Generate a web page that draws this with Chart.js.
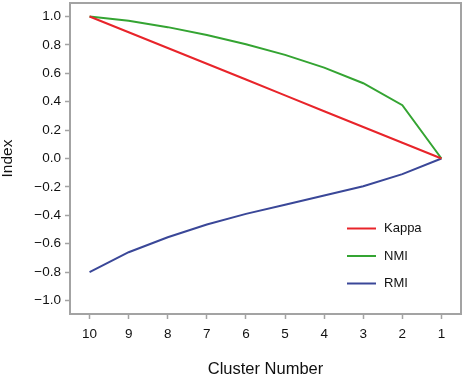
<!DOCTYPE html>
<html>
<head>
<meta charset="utf-8">
<script src="https://cdn.jsdelivr.net/npm/chart.js@4.4.0/dist/chart.umd.min.js"></script>
<style>
  html, body { margin: 0; padding: 0; background: #fff; }
  canvas { display: block; }
</style>
</head>
<body>
<canvas id="chart" width="463" height="382"></canvas>
<script>
// cluster numbers, read left to right
const categories = ["10", "9", "8", "7", "6", "5", "4", "3", "2", "1"];
const kappa = [1.0, 0.889, 0.778, 0.667, 0.556, 0.444, 0.333, 0.222, 0.111, 0.0];
const nmi = [1.0, 0.97, 0.925, 0.87, 0.805, 0.73, 0.64, 0.53, 0.375, 0.0];
const rmi = [-0.80, -0.66, -0.555, -0.465, -0.39, -0.325, -0.26, -0.195, -0.11, 0.0];
const yTickValues = [-1.0, -0.8, -0.6, -0.4, -0.2, 0.0, 0.2, 0.4, 0.6, 0.8, 1.0];

const FONT = '"Liberation Sans", Arial, sans-serif';
const AXIS_GREY = "#a3a3a3";

// full box around the plot + legend inside lower right
const boxAndLegend = {
  id: "boxAndLegend",
  afterDatasetsDraw(chart) {
    const ctx = chart.ctx;
    const a = chart.chartArea;
    ctx.save();
    ctx.strokeStyle = AXIS_GREY;
    ctx.lineWidth = 2;
    ctx.strokeRect(a.left, a.top, a.right - a.left, a.bottom - a.top);

    const x0 = 347, x1 = 376, tx = 384;
    let y = 228.5;
    ctx.font = "13px " + FONT;
    ctx.textBaseline = "middle";
    ctx.textAlign = "left";
    chart.data.datasets.forEach(ds => {
      ctx.strokeStyle = ds.borderColor;
      ctx.lineWidth = 2;
      ctx.beginPath();
      ctx.moveTo(x0, y);
      ctx.lineTo(x1, y);
      ctx.stroke();
      ctx.fillStyle = "#111";
      ctx.fillText(ds.label, tx, y);
      y += 27.5;
    });
    ctx.restore();
  }
};

new Chart(document.getElementById("chart"), {
  type: "line",
  data: {
    labels: categories,
    datasets: [
      { label: "Kappa", data: kappa, borderColor: "#e8242a" },
      { label: "NMI", data: nmi, borderColor: "#34a432" },
      { label: "RMI", data: rmi, borderColor: "#3a4798" }
    ]
  },
  options: {
    responsive: false,
    animation: false,
    devicePixelRatio: 1,
    elements: {
      point: { radius: 0 },
      line: { borderWidth: 2, tension: 0 }
    },
    layout: { padding: { top: 3, right: 2, left: 0, bottom: 0 } },
    plugins: {
      legend: { display: false },
      tooltip: { enabled: false }
    },
    scales: {
      x: {
        offset: true,
        grid: {
          offset: false,
          drawOnChartArea: false,
          drawTicks: true,
          tickLength: 5,
          tickWidth: 1.5,
          tickColor: AXIS_GREY
        },
        border: { display: true, color: AXIS_GREY, width: 2 },
        ticks: {
          color: "#111",
          padding: 7,
          maxRotation: 0,
          autoSkip: false,
          font: { family: FONT, size: 13.5 }
        },
        title: {
          display: true,
          text: "Cluster Number",
          color: "#111",
          font: { family: FONT, size: 16.5, lineHeight: 1.2 },
          padding: { top: 0, bottom: 3 }
        },
        afterFit(scale) {
          scale.height = 68;
          scale.paddingLeft = 0;
          scale.paddingRight = 0;
        }
      },
      y: {
        min: -1.095,
        max: 1.095,
        afterBuildTicks(scale) {
          scale.ticks = yTickValues.map(v => ({ value: v }));
        },
        grid: {
          drawOnChartArea: false,
          drawTicks: true,
          tickLength: 5,
          tickWidth: 1.5,
          tickColor: AXIS_GREY
        },
        border: { display: true, color: AXIS_GREY, width: 2 },
        ticks: {
          color: "#111",
          padding: 4,
          font: { family: FONT, size: 13.5 },
          callback: v => v.toFixed(1).replace("-", "\u2212").replace("\u22120.0", "0.0")
        },
        title: {
          display: true,
          text: "Index",
          color: "#111",
          font: { family: FONT, size: 15.5, lineHeight: 1 },
          padding: { top: 0, bottom: 0 }
        },
        afterFit(scale) {
          scale.width = 70;
          scale.paddingTop = 0;
          scale.paddingBottom = 0;
        }
      }
    }
  },
  plugins: [boxAndLegend]
});
</script>
</body>
</html>
